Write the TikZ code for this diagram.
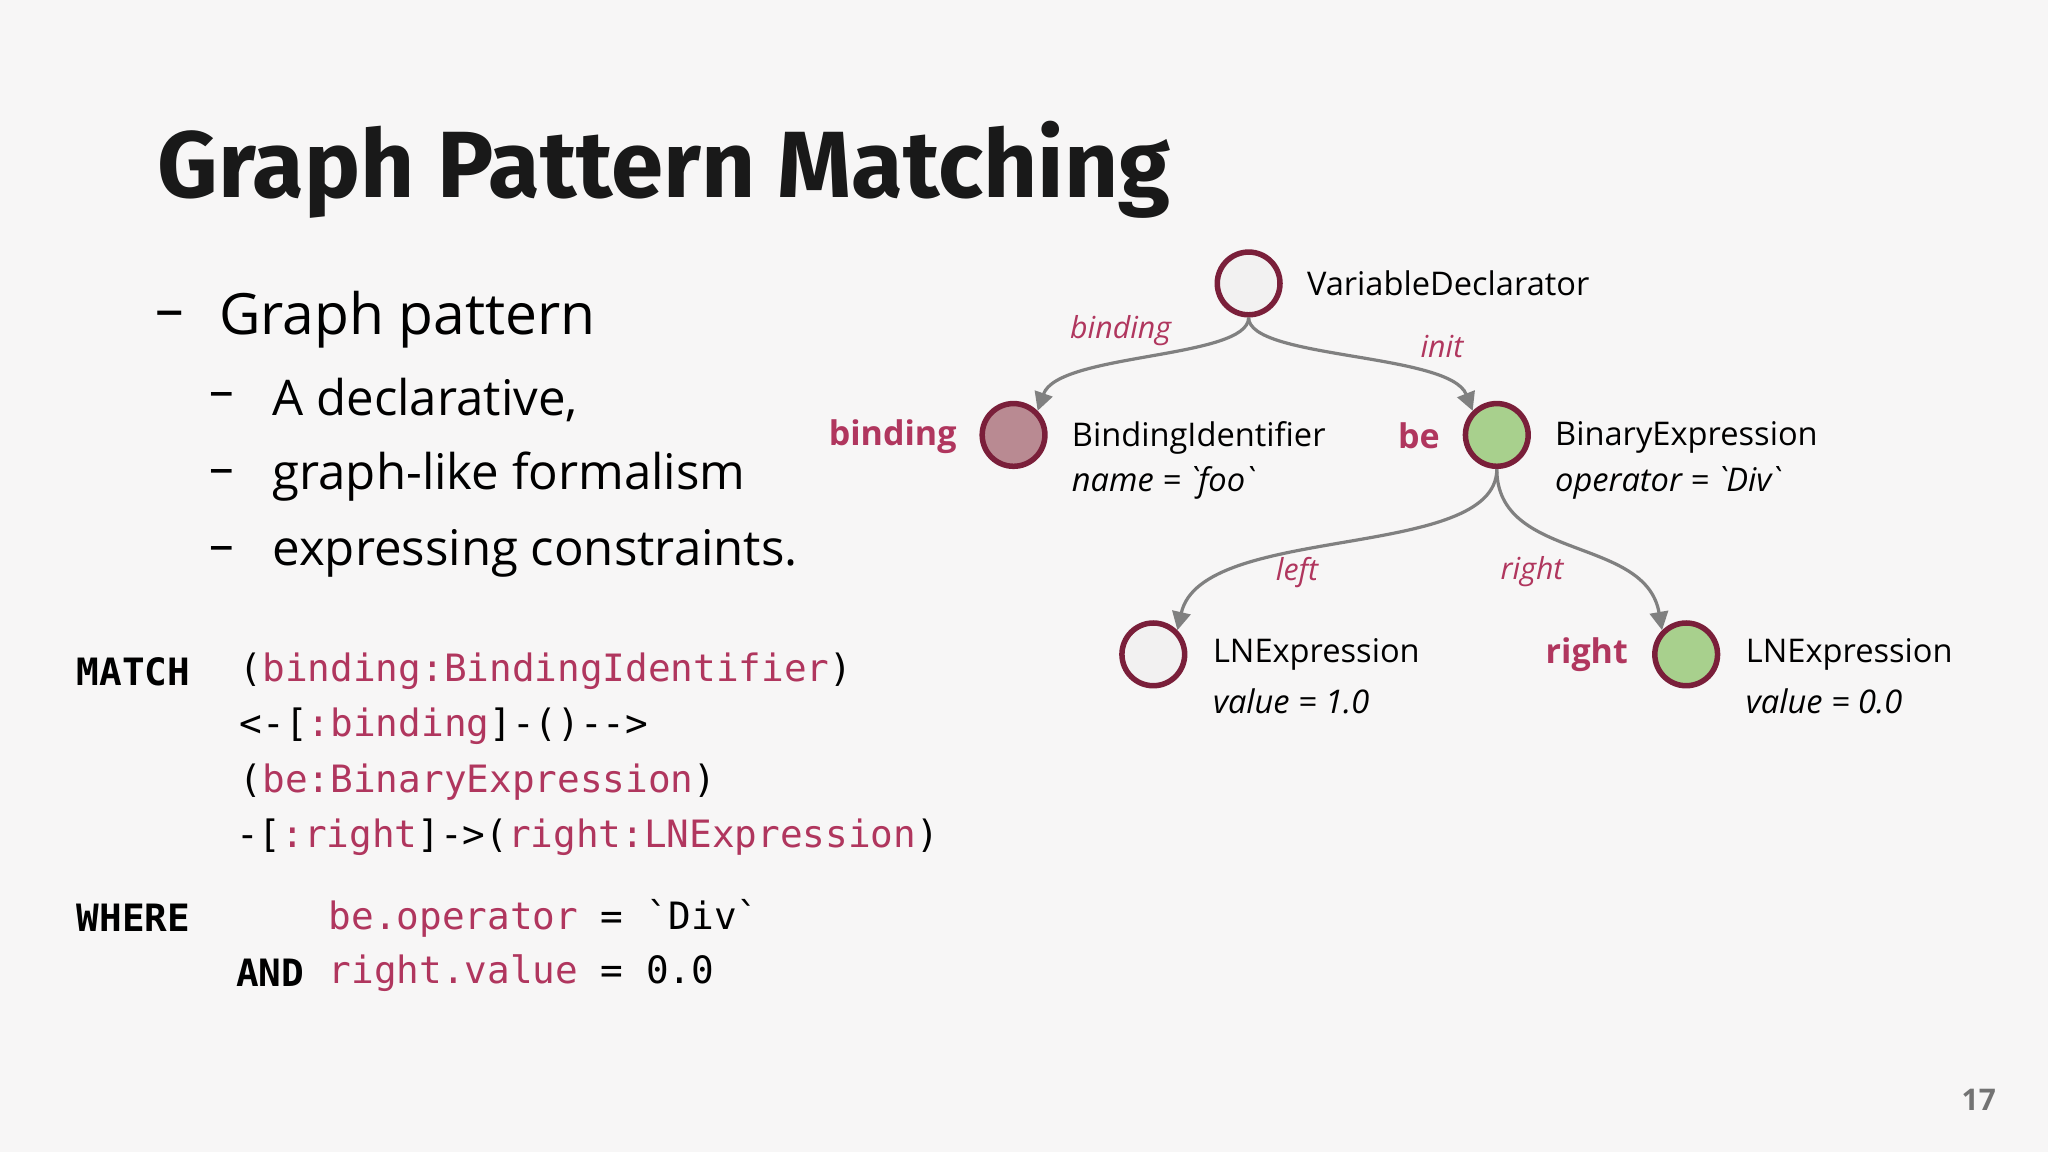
\documentclass[tikz,border=0pt]{standalone}
\usepackage{fontspec}
\setmainfont{Open Sans}
\newfontfamily\titlefont{Fira Sans}
\setmonofont{DejaVu Sans Mono}
\usetikzlibrary{arrows.meta}
\definecolor{bg}{HTML}{F7F6F6}
\definecolor{crim}{HTML}{B0365E}
\definecolor{ring}{HTML}{7A1F3A}
\definecolor{gfill}{HTML}{F2F1F1}
\definecolor{mfill}{HTML}{B98A92}
\definecolor{greenf}{HTML}{A8D08D}
\definecolor{edgec}{HTML}{808080}
\tikzset{
 vnode/.style={circle,draw=ring,line width=1.2pt,minimum size=48pt*0.2845,inner sep=0pt},
 lbl/.style={anchor=west,font=\fontsize{7.1}{9}\selectfont,inner sep=0pt},
 elbl/.style={font=\fontsize{6.6}{8}\selectfont\itshape,text=crim,inner sep=0pt},
 var/.style={anchor=east,font=\fontsize{7.4}{9}\selectfont\bfseries,text=crim,inner sep=0pt},
 edge/.style={draw=edgec,line width=0.7pt,-{Triangle[length=4pt,width=4pt]}},
 code/.style={anchor=west,font=\fontsize{8.2}{10}\selectfont\ttfamily,inner sep=0pt},
 bul/.style={anchor=west,inner sep=0pt}
}
\newcommand{\cc}[1]{\textcolor{crim}{#1}}
\newcommand{\bq}{\textasciigrave}
\begin{document}
\begin{tikzpicture}[x=0.01cm,y=-0.01cm]
\fill[bg] (0,0) rectangle (1568,882);
\node[anchor=west,inner sep=0pt,font=\fontsize{20.5}{24}\selectfont\titlefont\bfseries,text=black!90] (title) at (120,130) {Graph Pattern Matching};
% bullets
\node[bul,font=\fontsize{12.4}{15}\selectfont] (d0) at (118,245) {–};
\node[bul,font=\fontsize{12.4}{15}\selectfont] (b0) at (167,245) {Graph pattern};
\node[bul,font=\fontsize{10.7}{13}\selectfont] (d1) at (160,306) {–};
\node[bul,font=\fontsize{10.7}{13}\selectfont] (b1) at (208,306) {A declarative,};
\node[bul,font=\fontsize{10.7}{13}\selectfont] (d2) at (160,365) {–};
\node[bul,font=\fontsize{10.7}{13}\selectfont] (b2) at (208,365) {graph-like formalism};
\node[bul,font=\fontsize{10.7}{13}\selectfont] (d3) at (160,424) {–};
\node[bul,font=\fontsize{10.7}{13}\selectfont] (b3) at (208,424) {expressing constraints.};
% code
\node[code,font=\fontsize{8.2}{10}\selectfont\ttfamily\bfseries] (m) at (58,514) {MATCH};
\node[code] (c1) at (183,514) {(\cc{binding:BindingIdentifier})};
\node[code] (c2) at (183,556) {<-[\cc{:binding}]-()-->};
\node[code] (c3) at (183,599) {(\cc{be:BinaryExpression})};
\node[code] (c4) at (180,641) {-[\cc{:right}]->(\cc{right:LNExpression})};
\node[code,font=\fontsize{8.2}{10}\selectfont\ttfamily\bfseries] (w) at (58,703) {WHERE};
\node[code] (c5) at (251,703) {\cc{be.operator} = \bq Div\bq};
\node[code,font=\fontsize{8.2}{10}\selectfont\ttfamily\bfseries] (a) at (180,745) {AND};
\node[code] (c6) at (251,745) {\cc{right.value} = 0.0};
% graph
\node[vnode,fill=gfill] (vd) at (956,217) {};
\node[lbl] (vdl) at (1000,217) {VariableDeclarator};
\node[vnode,fill=mfill] (bi) at (776,333) {};
\node[lbl] (bil) at (820,335) {BindingIdentifier};
\node[lbl] (bil2) at (820,370) {\itshape name = \bq foo\bq};
\node[var] (biv) at (733,334) {binding};
\node[vnode,fill=greenf] (be) at (1146,333) {};
\node[lbl] (bel) at (1190,335) {BinaryExpression};
\node[lbl] (bel2) at (1190,370) {\itshape operator = \bq Div\bq};
\node[var] (bev) at (1103,334) {be};
\node[vnode,fill=gfill] (ll) at (883,501) {};
\node[lbl] (lll) at (928,501) {LNExpression};
\node[lbl] (lll2) at (928,537) {\itshape value = 1.0};
\node[vnode,fill=greenf] (rr) at (1291,501) {};
\node[lbl] (rrl) at (1336,501) {LNExpression};
\node[lbl] (rrl2) at (1336,537) {\itshape value = 0.0};
\node[var] (rrv) at (1247,501) {right};
\path[edge] (vd.south) .. controls (956,275) and (810,270) .. (bi.north east);
\path[edge] (vd.south) .. controls (956,275) and (1110,270) .. (be.north west);
\path[edge] (be.south) .. controls (1146,430) and (920,400) .. (ll.north east);
\path[edge] (be.south) .. controls (1146,430) and (1260,410) .. (rr.north west);
\node[elbl] (e1) at (858,253) {binding};
\node[elbl] (e2) at (1104,265) {init};
\node[elbl] (e3) at (993,438) {left};
\node[elbl] (e4) at (1173,438) {right};
\node[font=\fontsize{6.5}{8}\selectfont\bfseries,text=black!55,inner sep=0pt] (pg) at (1515,842) {17};
\end{tikzpicture}
\end{document}
